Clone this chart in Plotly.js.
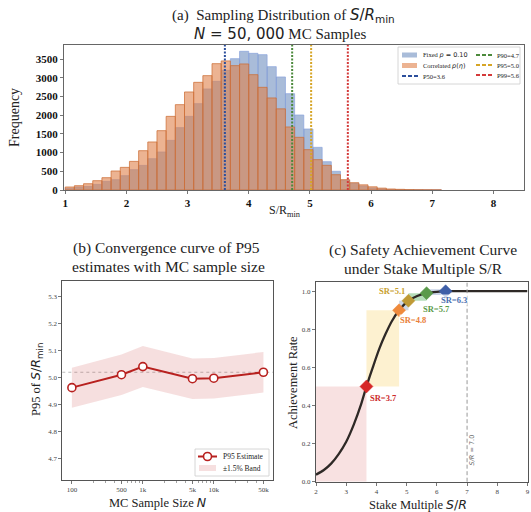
<!DOCTYPE html>
<html><head><meta charset="utf-8">
<script src="https://cdn.plot.ly/plotly-3.0.1.min.js"></script>
<style>html,body{margin:0;padding:0;background:#fff;} #chart{width:531px;height:512px;}</style>
</head><body><div id="chart"></div>
<script>
// ---------- Panel (a): sampling distribution ----------
const binStart = 1.0;
const binWidth = 0.15;
const fixedCounts = [43, 80, 96, 150, 230, 275, 383, 543, 658, 837, 1016, 1327, 1667, 1969, 2309, 2702, 2905, 3199, 3512, 3708, 3654, 3619, 3298, 3022, 2576, 2005, 1631, 1141, 757, 500, 258, 178, 107, 53, 27, 12, 6, 3, 1, 0, 0];
const corrCounts  = [80, 115, 168, 249, 329, 508, 605, 765, 1051, 1284, 1586, 1969, 2282, 2621, 2879, 3058, 3378, 3451, 3325, 3370, 3084, 2745, 2461, 2170, 1685, 1408, 1078, 811, 659, 409, 276, 195, 138, 85, 50, 27, 18, 9, 5, 3, 2];
const pctNames  = ['P50=3.6', 'P90=4.7', 'P95=5.0', 'P99=5.6'];
const pctValues = [3.61, 4.71, 5.02, 5.62];
const histXTicks = [1, 2, 3, 4, 5, 6, 7, 8];
const histYTicks = [0, 500, 1000, 1500, 2000, 2500, 3000, 3500];

// ---------- Panel (b): convergence ----------
const sampleSizes  = [100, 500, 1000, 5000, 10000, 50000];
const sampleLabels = ['100', '500', '1k', '5k', '10k', '50k'];
const p95Estimates = [4.963, 5.011, 5.041, 4.996, 4.998, 5.020];
const bandUpper    = [5.037, 5.086, 5.117, 5.071, 5.073, 5.095];
const bandLower    = [4.889, 4.936, 4.965, 4.921, 4.923, 4.945];
const p95Reference = 5.020;

// ---------- Panel (c): achievement curve ----------
const stakeX   = [2.0, 2.25, 2.5, 2.75, 3.0, 3.25, 3.5, 3.67, 3.9, 4.1, 4.3, 4.5, 4.75, 5.06, 5.35, 5.66, 6.0, 6.29, 7.0, 8.0, 9.0];
const achieveY = [0.037, 0.06, 0.095, 0.145, 0.21, 0.30, 0.41, 0.50, 0.61, 0.70, 0.775, 0.84, 0.90, 0.95, 0.975, 0.99, 0.997, 1.0, 1.0, 1.0, 1.0];
const milestoneSR     = [3.67, 4.75, 5.06, 5.66, 6.29];
const milestoneRate   = [0.50, 0.90, 0.95, 0.99, 1.00];
const milestoneLabels = ['SR=3.7', 'SR=4.8', 'SR=5.1', 'SR=5.7', 'SR=6.3'];
const refSR = 7.0;

// ---------- styling ----------
const SERIF = 'Liberation Serif, Times New Roman, serif';
const MATH = 'DejaVu Sans, sans-serif';
const W = 531, H = 512;
const px = v => v / W;
const py = v => 1 - v / H;
const math = s => `<span style="font-family:'DejaVu Sans'">${s}</span>`;

const pctColors = ['#2c4f9c', '#4c8a3c', '#d6a526', '#d43a3a'];
const msColors = ['#d62728', '#ef8a3c', '#bf9a36', '#5a9a4a', '#3f5fa8'];
const msTextColors = ['#cc2a2a', '#e98038', '#c9a02e', '#5a9a4a', '#4a6fb0'];
const rectColors = ['rgba(214,80,80,0.17)', 'rgba(250,215,120,0.35)', 'rgba(76,114,176,0.28)', 'rgba(70,170,80,0.40)', 'rgba(76,114,176,0.30)'];

const binCenters = fixedCounts.map((_, i) => binStart + binWidth * (i + 0.5));

const traces = [];
traces.push({
  type: 'bar', x: binCenters, y: fixedCounts, width: binWidth, xaxis: 'x', yaxis: 'y',
  marker: {color: 'rgba(76,114,176,0.48)', line: {color: 'rgba(140,165,220,0.9)', width: 0.8}},
  showlegend: false, hoverinfo: 'skip'
});
traces.push({
  type: 'bar', x: binCenters, y: corrCounts, width: binWidth, xaxis: 'x', yaxis: 'y',
  marker: {color: 'rgba(224,128,74,0.60)', line: {color: 'rgba(205,110,55,0.95)', width: 0.8}},
  showlegend: false, hoverinfo: 'skip'
});

// panel b
traces.push({
  type: 'scatter', mode: 'lines', x: sampleSizes, y: bandLower, xaxis: 'x2', yaxis: 'y2',
  line: {width: 0, color: 'rgba(0,0,0,0)'}, showlegend: false, hoverinfo: 'skip'
});
traces.push({
  type: 'scatter', mode: 'lines', x: sampleSizes, y: bandUpper, xaxis: 'x2', yaxis: 'y2',
  fill: 'tonexty', fillcolor: 'rgba(205,80,80,0.18)', line: {width: 0, color: 'rgba(0,0,0,0)'},
  showlegend: false, hoverinfo: 'skip'
});
traces.push({
  type: 'scatter', mode: 'lines+markers', x: sampleSizes, y: p95Estimates, xaxis: 'x2', yaxis: 'y2',
  line: {color: '#b8211f', width: 2},
  marker: {symbol: 'circle', size: 8, color: '#ffffff', line: {color: '#b8211f', width: 1.6}},
  showlegend: false, hoverinfo: 'skip'
});

// panel c curve
traces.push({
  type: 'scatter', mode: 'lines', x: stakeX, y: achieveY, xaxis: 'x3', yaxis: 'y3',
  line: {color: '#2e2926', width: 2.3, shape: 'spline', smoothing: 0.6},
  showlegend: false, hoverinfo: 'skip'
});
milestoneSR.forEach((sr, i) => {
  traces.push({
    type: 'scatter', mode: 'markers', x: [sr], y: [milestoneRate[i]], xaxis: 'x3', yaxis: 'y3',
    marker: {symbol: 'diamond', size: 10, color: msColors[i], line: {color: msColors[i], width: 0.5}},
    showlegend: false, hoverinfo: 'skip'
  });
});

// ---------- shapes ----------
const shapes = [];
pctValues.forEach((v, i) => {
  shapes.push({type: 'line', xref: 'x', yref: 'y domain', x0: v, x1: v, y0: 0, y1: 1,
    line: {color: pctColors[i], width: 2, dash: '2px,1.5px'}, layer: 'above'});
});
shapes.push({type: 'rect', xref: 'paper', yref: 'paper', x0: px(398), x1: px(520), y0: py(84), y1: py(47),
  fillcolor: 'rgba(255,255,255,0.85)', line: {color: '#cccccc', width: 0.8}, layer: 'above'});
shapes.push({type: 'rect', xref: 'paper', yref: 'paper', x0: px(402), x1: px(417), y0: py(57.5), y1: py(52.5),
  fillcolor: 'rgba(76,114,176,0.48)', line: {width: 0}, layer: 'above'});
shapes.push({type: 'rect', xref: 'paper', yref: 'paper', x0: px(402), x1: px(417), y0: py(68), y1: py(63),
  fillcolor: 'rgba(224,128,74,0.60)', line: {width: 0}, layer: 'above'});
const legRowsA = [[402, 76, 0], [476, 55, 1], [476, 65, 2], [476, 75, 3]];
legRowsA.forEach(r => {
  shapes.push({type: 'line', xref: 'paper', yref: 'paper', x0: px(r[0]), x1: px(r[0] + 16), y0: py(r[1]), y1: py(r[1]),
    line: {color: pctColors[r[2]], width: 1.8, dash: '4px,2px'}, layer: 'above'});
});

shapes.push({type: 'line', xref: 'x2 domain', yref: 'y2', x0: 0, x1: 1, y0: p95Reference, y1: p95Reference,
  line: {color: '#aaaaaa', width: 0.8, dash: 'dot'}, layer: 'below'});
shapes.push({type: 'rect', xref: 'paper', yref: 'paper', x0: px(195), x1: px(269), y0: py(476), y1: py(449),
  fillcolor: 'rgba(255,255,255,0.9)', line: {color: '#cccccc', width: 0.8}, layer: 'above'});
shapes.push({type: 'line', xref: 'paper', yref: 'paper', x0: px(198), x1: px(217), y0: py(456.5), y1: py(456.5),
  line: {color: '#b8211f', width: 2}, layer: 'above'});
shapes.push({type: 'circle', xref: 'paper', yref: 'paper', x0: px(203.5), x1: px(211.5), y0: py(460.5), y1: py(452.5),
  fillcolor: '#ffffff', line: {color: '#b8211f', width: 1.6}, layer: 'above'});
shapes.push({type: 'rect', xref: 'paper', yref: 'paper', x0: px(199), x1: px(216), y0: py(471), y1: py(465),
  fillcolor: 'rgba(205,80,80,0.18)', line: {width: 0}, layer: 'above'});

let prevX = 2.0, prevY = 0.0;
milestoneSR.forEach((sr, i) => {
  let y0 = prevY, y1 = milestoneRate[i];
  if (y1 - y0 < 0.03) { const m = (y0 + y1) / 2; y0 = m - 0.015; y1 = m + 0.015; }
  shapes.push({type: 'rect', xref: 'x3', yref: 'y3', x0: prevX, x1: sr, y0: y0, y1: y1,
    fillcolor: rectColors[i], line: {width: 0}, layer: 'below'});
  prevX = sr; prevY = milestoneRate[i];
});
shapes.push({type: 'line', xref: 'x3', yref: 'y3 domain', x0: refSR, x1: refSR, y0: 0, y1: 1,
  line: {color: '#999999', width: 1, dash: '4px,2.5px'}});

// ---------- annotations ----------
const ann = [];
const T = (text, x, y, size, extra) => Object.assign({text, xref: 'paper', yref: 'paper', x: px(x), y: py(y),
  showarrow: false, xanchor: 'center', yanchor: 'middle', font: {family: SERIF, size, color: '#222'}}, extra || {});
ann.push(T('(a)  Sampling Distribution of ' + math('<i>S</i>/<i>R</i><sub>min</sub>'), 283, 15, 15));
ann.push(T(math('<i>N</i> = 50, 000') + ' MC Samples', 280, 33.5, 15));
ann.push(T('(b) Convergence curve of P95', 166, 248, 15.5));
ann.push(T('estimates with MC sample size', 168, 266, 15.5));
ann.push(T('(c) Safety Achievement Curve', 423, 250, 15.5));
ann.push(T('under Stake Multiple S/R', 423, 268, 15.5));
ann.push(T('Frequency', 14, 118, 14, {textangle: -90}));
ann.push(T('S/R<sub>min</sub>', 285, 211, 12));
ann.push(T('P95 of ' + math('<i>S</i>/<i>R</i><sub>min</sub>'), 36, 380, 12.5, {textangle: -90}));
ann.push(T('MC Sample Size ' + math('<i>N</i>'), 158, 502, 12.5));
ann.push(T('Achievement Rate', 293, 383, 12.5, {textangle: -90}));
ann.push(T('Stake Multiple ' + math('<i>S</i>/<i>R</i>'), 418, 504, 12.5));
ann.push(T('Fixed ' + math('<i>p</i> = 0.10'), 421, 55, 6.5, {xanchor: 'left'}));
ann.push(T('Correlated ' + math('<i>p</i>(<i>η</i>)'), 421, 65.5, 6.5, {xanchor: 'left'}));
ann.push(T(pctNames[0], 421, 76, 6.5, {xanchor: 'left'}));
ann.push(T(pctNames[1], 495, 55, 6.5, {xanchor: 'left'}));
ann.push(T(pctNames[2], 495, 65, 6.5, {xanchor: 'left'}));
ann.push(T(pctNames[3], 495, 75, 6.5, {xanchor: 'left'}));
ann.push(T('P95 Estimate', 221, 456.5, 7.5, {xanchor: 'left'}));
ann.push(T('±1.5% Band', 221, 468, 7.5, {xanchor: 'left'}));
const labelOffsets = [[0.55, -0.06], [0.46, -0.053], [-0.54, 0.05], [0.34, -0.081], [0.28, -0.044]];
milestoneSR.forEach((sr, i) => {
  ann.push({text: '<b>' + milestoneLabels[i] + '</b>', xref: 'x3', yref: 'y3',
    x: sr + labelOffsets[i][0], y: milestoneRate[i] + labelOffsets[i][1], showarrow: false,
    xanchor: 'center', yanchor: 'middle', bgcolor: 'rgba(255,255,255,0.75)', borderpad: 0,
    font: {family: SERIF, size: 8.5, color: msTextColors[i]}});
});
ann.push({text: '<i>S/R</i> = 7.0', xref: 'x3', yref: 'y3', x: refSR + 0.17, y: 0.165, textangle: -90,
  showarrow: false, xanchor: 'center', yanchor: 'middle', font: {family: MATH, size: 6.5, color: '#666'}});

const tickFontSmall = {family: SERIF, size: 7, color: '#444'};
const axBase = {showgrid: false, zeroline: false, showline: true, linecolor: '#555', linewidth: 1, mirror: true,
  ticks: 'outside', ticklen: 3, tickwidth: 0.8, tickcolor: '#555'};

const layout = {
  width: W, height: H, margin: {l: 0, r: 0, t: 0, b: 0},
  paper_bgcolor: '#fff', plot_bgcolor: '#fff', barmode: 'overlay', bargap: 0, showlegend: false,
  xaxis: Object.assign({}, axBase, {domain: [px(64), px(524)], range: [0.98, 8.5], tickvals: histXTicks,
    ticktext: histXTicks.map(String), tickfont: {family: SERIF, size: 11, color: '#111', weight: 'bold'}, anchor: 'y',
    linecolor: '#666'}),
  yaxis: Object.assign({}, axBase, {domain: [py(190), py(45)], range: [0, 3877], tickvals: histYTicks,
    tickfont: {family: SERIF, size: 11, color: '#111', weight: 'bold'}, anchor: 'x', linecolor: '#666'}),
  xaxis2: Object.assign({}, axBase, {domain: [px(62.3), px(273)], type: 'log', range: [1.865, 4.834],
    tickvals: sampleSizes, ticktext: sampleLabels, tickfont: tickFontSmall, anchor: 'y2',
    minor: {ticks: 'outside', ticklen: 2, tickcolor: '#666', tickwidth: 0.6,
      tickvals: [200, 300, 400, 600, 700, 800, 900, 2000, 3000, 4000, 6000, 7000, 8000, 9000, 20000, 30000, 40000]}}),
  yaxis2: Object.assign({}, axBase, {domain: [py(480), py(280.7)], range: [4.621, 5.359], dtick: 0.1, tick0: 4.7,
    tickformat: '.1f', tickfont: tickFontSmall, anchor: 'x2'}),
  xaxis3: Object.assign({}, axBase, {domain: [px(316), px(527.5)], range: [2, 9], dtick: 1, tickfont: tickFontSmall, anchor: 'y3'}),
  yaxis3: Object.assign({}, axBase, {domain: [py(481.7), py(281.7)], range: [0, 1.05], dtick: 0.2, tick0: 0,
    tickformat: '.1f', tickfont: tickFontSmall, anchor: 'x3'}),
  shapes: shapes,
  annotations: ann
};

Plotly.newPlot('chart', traces, layout, {displayModeBar: false, staticPlot: true});
</script>
</body></html>
